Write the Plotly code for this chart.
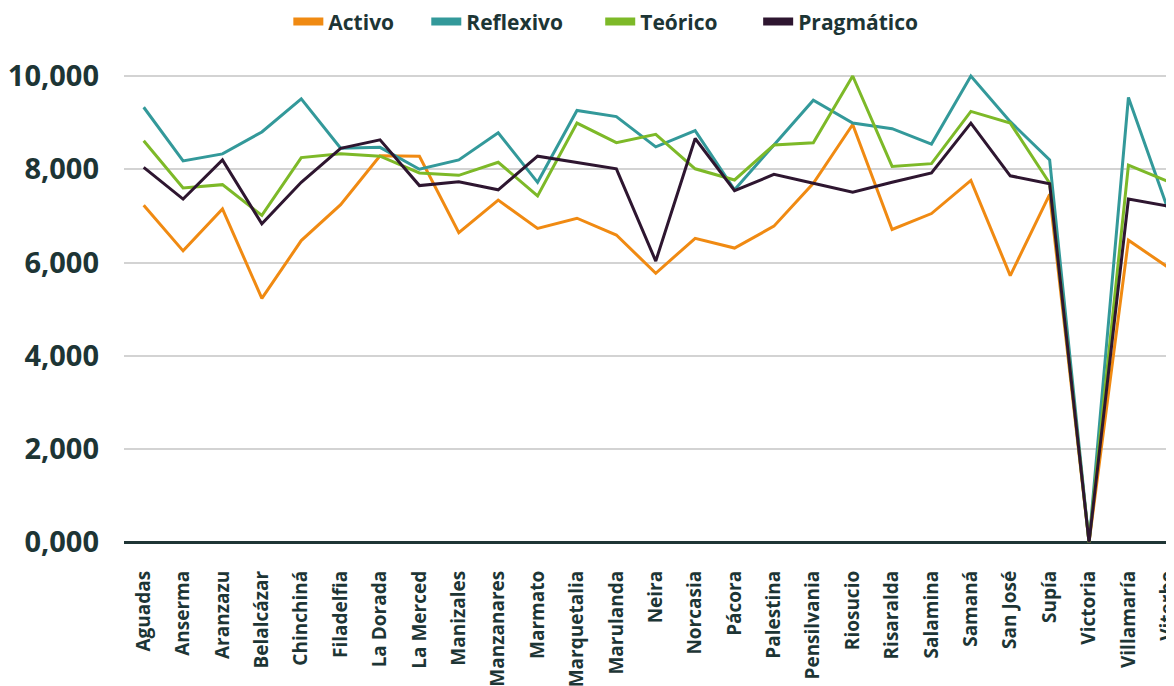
import plotly.graph_objects as go

municipios = ["Aguadas", "Anserma", "Aranzazu", "Belalcázar", "Chinchiná", "Filadelfia",
              "La Dorada", "La Merced", "Manizales", "Manzanares", "Marmato", "Marquetalia",
              "Marulanda", "Neira", "Norcasia", "Pácora", "Palestina", "Pensilvania",
              "Riosucio", "Risaralda", "Salamina", "Samaná", "San José", "Supía",
              "Victoria", "Villamaría", "Viterbo"]

activo = [7.23, 6.25, 7.15, 5.23, 6.47, 7.24, 8.29, 8.28, 6.64, 7.34, 6.73, 6.95,
          6.59, 5.77, 6.52, 6.31, 6.78, 7.70, 8.96, 6.71, 7.05, 7.76, 5.72, 7.46,
          0.0, 6.48, 5.90]
reflexivo = [9.33, 8.18, 8.33, 8.80, 9.51, 8.45, 8.47, 8.00, 8.20, 8.78, 7.72, 9.26,
             9.13, 8.48, 8.83, 7.56, 8.52, 9.48, 8.99, 8.87, 8.54, 10.0, 9.02, 8.20,
             0.0, 9.54, 7.15]
teorico = [8.61, 7.60, 7.67, 7.01, 8.25, 8.33, 8.28, 7.92, 7.87, 8.15, 7.43, 8.99,
           8.57, 8.75, 8.01, 7.77, 8.52, 8.57, 10.0, 8.06, 8.12, 9.24, 8.99, 7.70,
           0.0, 8.09, 7.74]
pragmatico = [8.04, 7.36, 8.20, 6.83, 7.72, 8.45, 8.63, 7.65, 7.73, 7.56, 8.28, 8.14,
              8.01, 6.03, 8.66, 7.54, 7.89, 7.70, 7.51, 7.72, 7.92, 8.99, 7.86, 7.69,
              0.0, 7.36, 7.21]

series_names = ["Activo", "Reflexivo", "Teórico", "Pragmático"]
series_values = [activo, reflexivo, teorico, pragmatico]
series_colors = ["#F08A12", "#33999A", "#7DB928", "#2E1630"]

y_tickvals = [0, 2, 4, 6, 8, 10]
y_ticktext = ["0,000", "2,000", "4,000", "6,000", "8,000", "10,000"]

text_color = "#1D3535"
font_family = "Open Sans"

# page has an 8px body margin: compensate
L, T, B = 115.6, 54, 147.4
plot_w = 1174 - L
legend_px = [280, 418, 592, 750]  # figure-x of each legend box
legend_ids = ["legend", "legend2", "legend3", "legend4"]

fig = go.Figure()
for name, vals, col in zip(series_names, series_values, series_colors):
    fig.add_trace(go.Scatter(x=municipios, y=vals, mode="lines", name=name,
                             line=dict(color=col, width=3), showlegend=False,
                             hoverinfo="x+y"))
for name, col, lid in zip(series_names, series_colors, legend_ids):
    fig.add_trace(go.Scatter(x=[None], y=[None], mode="lines", name=name,
                             line=dict(color=col, width=8), showlegend=True, legend=lid))

legend_style = dict(orientation="h", yanchor="middle", y=1 + 40 / (686 - T - B),
                    xanchor="left",
                    font=dict(size=21, family=font_family, color=text_color, weight="bold"),
                    itemwidth=30, bgcolor="rgba(0,0,0,0)")
legends = {lid: dict(legend_style, x=(px - L) / plot_w) for lid, px in zip(legend_ids, legend_px)}

fig.update_layout(
    width=1174, height=686,
    margin=dict(l=L, r=0, t=T, b=B, autoexpand=False),
    paper_bgcolor="white", plot_bgcolor="white",
    font=dict(family=font_family, color=text_color),
    xaxis=dict(type="category", range=[-0.5, 26.36], showgrid=False, zeroline=False,
               showline=False, tickangle=-90, ticks="", automargin=False,
               tickfont=dict(size=19, family=font_family, color=text_color, weight="bold"),
               ticklabelstandoff=19),
    yaxis=dict(range=[-0.1, 10.3], tickvals=y_tickvals, ticktext=y_ticktext,
               showgrid=True, gridcolor="#D3D3D3", gridwidth=1.5, automargin=False,
               zeroline=True, zerolinecolor="#1F3535", zerolinewidth=3,
               showline=False, ticks="",
               tickfont=dict(size=29, family=font_family, color=text_color, weight="bold"),
               ticklabelstandoff=24),
    **legends,
)

fig.write_html("out.html")
